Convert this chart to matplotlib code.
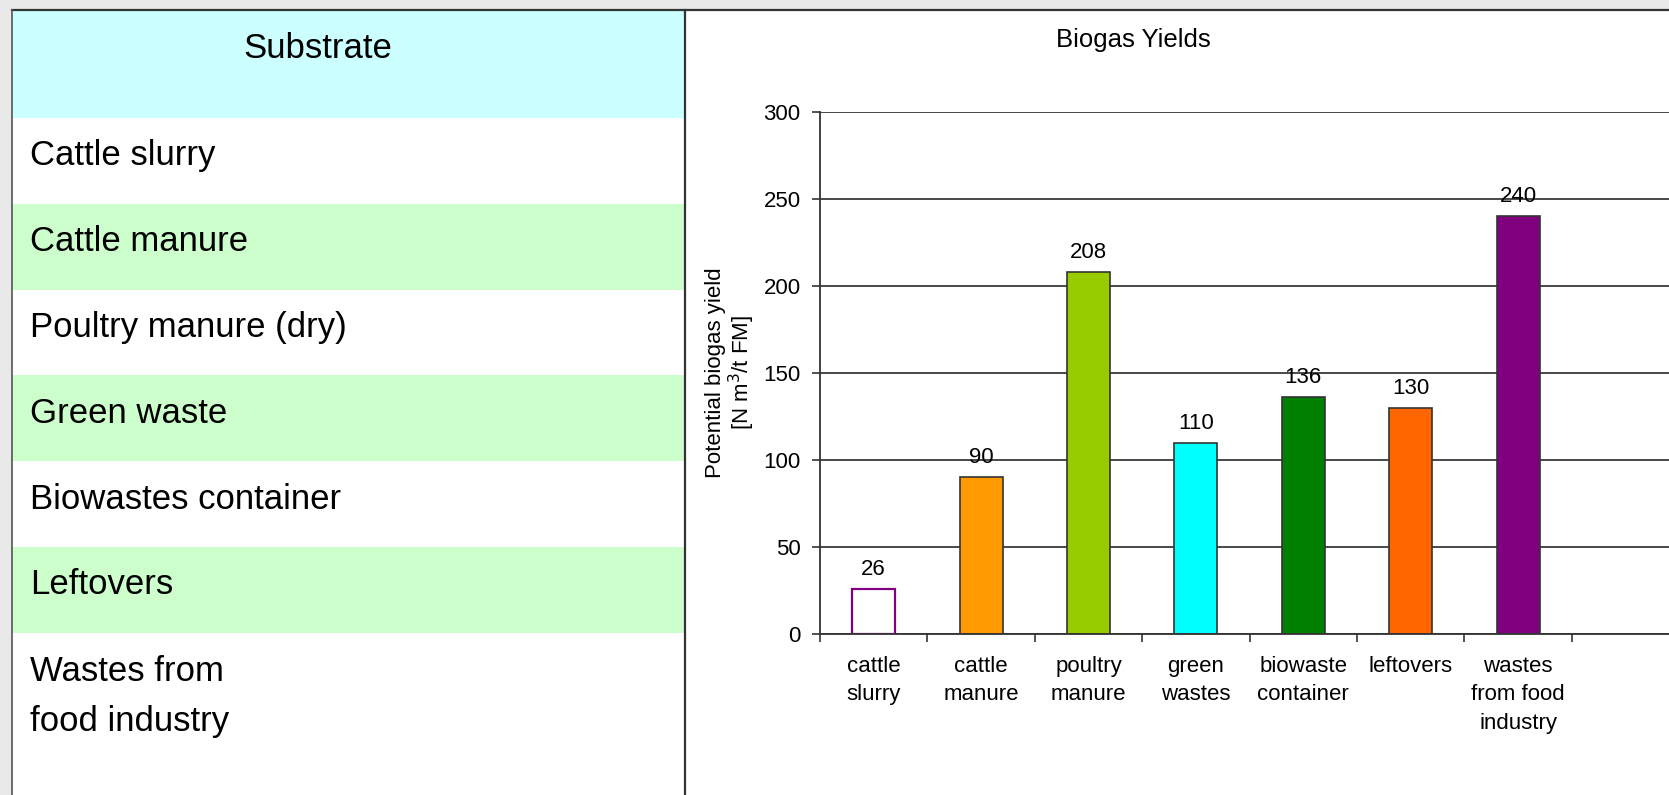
import numpy as np
import matplotlib.pyplot as plt
from matplotlib.patches import Rectangle

plt.rcParams['font.family'] = ['Liberation Sans', 'DejaVu Sans']

# table on the left
header = "Substrate"
substrates = ["Cattle slurry", "Cattle manure", "Poultry manure (dry)", "Green waste",
              "Biowastes container", "Leftovers", "Wastes from\nfood industry"]
row_colors = ["white", "#ccffcc", "white", "#ccffcc", "white", "#ccffcc", "white"]

# bar chart on the right
categories = ["cattle\nslurry", "cattle\nmanure", "poultry\nmanure", "green\nwastes",
              "biowaste\ncontainer", "leftovers", "wastes\nfrom food\nindustry"]
yields = [26, 90, 208, 110, 136, 130, 240]
bar_colors = ["white", "#ff9900", "#99cc00", "#00ffff", "#008000", "#ff6600", "#800080"]
edge_colors = ["#800080", "#333333", "#333333", "#333333", "#333333", "#333333", "#333333"]
yticks = [0, 50, 100, 150, 200, 250, 300]

W, H = 1669, 795
fig = plt.figure(figsize=(W / 100, H / 100), dpi=100, facecolor="#e9e9e9")

# background axes in pixel coords
bg = fig.add_axes([0, 0, 1, 1])
bg.set_xlim(0, W)
bg.set_ylim(H, 0)
bg.axis("off")
bg.add_patch(Rectangle((12, 10), W - 12, H - 10, facecolor="white", edgecolor="none"))

# table rows
top, head_h, row_h = 10, 108, 85.8
bg.add_patch(Rectangle((12, top), 673, head_h, facecolor="#ccffff", edgecolor="none"))
bg.text(318, 49, header, fontsize=25, ha="center", va="center")
for i, (name, col) in enumerate(zip(substrates, row_colors)):
    y0 = top + head_h + i * row_h
    h = row_h if i < len(substrates) - 1 else H - y0
    bg.add_patch(Rectangle((12, y0), 673, h, facecolor=col, edgecolor="none"))
    if "\n" in name:
        bg.text(30, y0 + 64, name, fontsize=25, ha="left", va="center", linespacing=1.65)
    else:
        bg.text(30, y0 + 38, name, fontsize=25, ha="left", va="center")

# frame lines
bg.plot([12, W], [10, 10], color="#333333", lw=1.6)
bg.plot([12, 12], [10, H], color="#555555", lw=1.2)
bg.plot([685, 685], [10, H], color="#333333", lw=1.6)

# chart
x0, xr = 820, 107.4
ax = fig.add_axes([x0 / W, 1 - 634 / H, (W - x0) / W, (634 - 112) / H])
ax.set_facecolor("none")
x = np.arange(len(yields))
bars = ax.bar(x, yields, width=0.4, color=bar_colors, edgecolor=edge_colors, linewidth=1.2)
bars[0].set_linewidth(1.6)

for xi, v in zip(x, yields):
    ax.annotate(str(v), (xi, v), xytext=(0, 14), textcoords="offset points",
                ha="center", va="center", fontsize=16)

ax.set_ylim(0, 300)
ax.set_xlim(-0.5, -0.5 + (W - x0) / xr)
ax.set_yticks(yticks)
ax.set_xticks(x)
ax.set_xticklabels(categories, fontsize=16, linespacing=1.45, va="top")
ax.set_xticks(np.arange(-0.5, len(yields) + 0.5, 1.0), minor=True)
ax.tick_params(axis="x", which="major", length=0, pad=16)
ax.tick_params(axis="x", which="minor", length=6, width=1.2, color="#333333")
ax.tick_params(axis="y", length=6, width=1.2, color="#333333", labelsize=16, pad=8)

ax.yaxis.grid(True, color="#3a3a3a", linewidth=1.3)
ax.set_axisbelow(True)
for s in ["top", "right"]:
    ax.spines[s].set_visible(False)
for s in ["left", "bottom"]:
    ax.spines[s].set_color("#333333")
    ax.spines[s].set_linewidth(1.3)

ax.set_ylabel("Potential biogas yield\n[N m$^3$/t FM]", fontsize=16, linespacing=1.05)
ax.yaxis.label.set_va("center")
ax.yaxis.set_label_coords((731 - x0) / (W - x0), 0.5)
ax.set_title("Biogas Yields", fontsize=18.5, x=(1133 - x0) / (W - x0), y=1 + (112 - 48) / 522, va="center")

fig.savefig("out.png", dpi=100, facecolor=fig.get_facecolor())
